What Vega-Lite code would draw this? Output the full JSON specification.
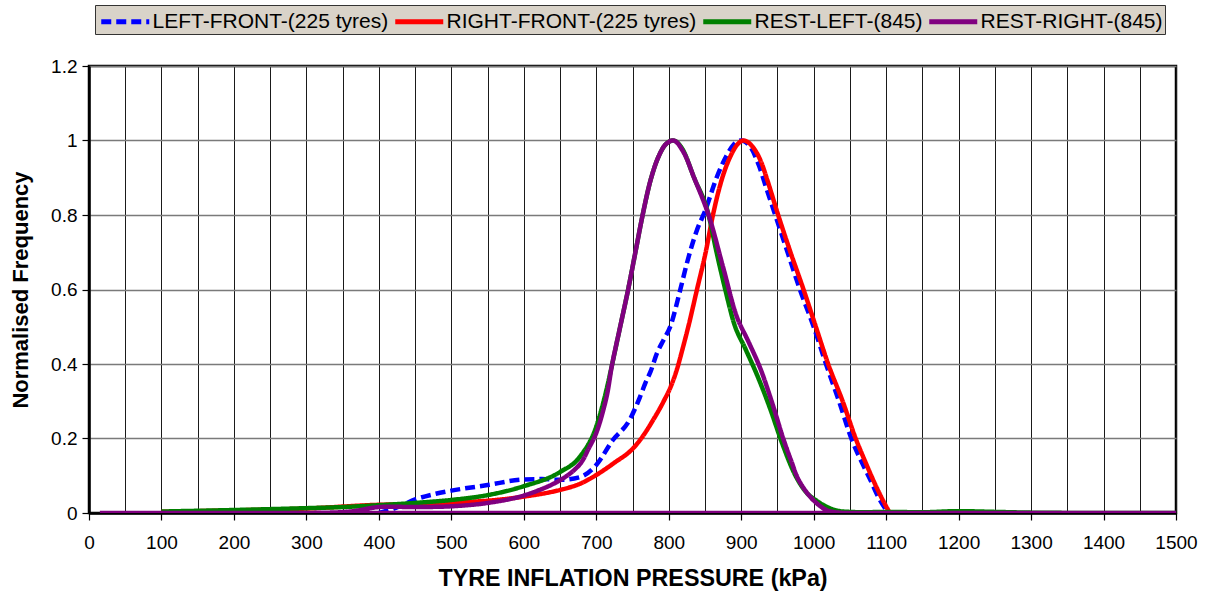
{
  "$schema": "https://vega.github.io/schema/vega-lite/v6.json",
  "width": 1087,
  "height": 447,
  "autosize": {"type": "none"},
  "padding": {"left": 89, "top": 66, "right": 30, "bottom": 82},
  "background": "white",
  "config": {
    "font": "Liberation Sans",
    "view": {"stroke": "black", "strokeWidth": 2.5},
    "axis": {"labelColor": "black", "titleColor": "black", "labelFont": "Liberation Sans", "titleFont": "Liberation Sans"},
    "legend": {
      "orient": "none", "legendX": 6, "legendY": -61, "direction": "horizontal",
      "title": null, "fillColor": "#d9d3c9", "strokeColor": "#333333", "padding": 2,
      "symbolType": "M-2,0L2,0", "symbolSize": 576, "symbolStrokeWidth": 4.8,
      "symbolOffset": 13.75,
      "labelFontSize": 21, "labelColor": "black", "labelOffset": 12.75,
      "columnPadding": -4, "labelLimit": 400
    }
  },
  "data": {"values": [
    {"series": "LEFT-FRONT-(225 tyres)", "x": 400, "y": 0},
    {"series": "LEFT-FRONT-(225 tyres)", "x": 425, "y": 0.015},
    {"series": "LEFT-FRONT-(225 tyres)", "x": 451, "y": 0.037},
    {"series": "LEFT-FRONT-(225 tyres)", "x": 475, "y": 0.05},
    {"series": "LEFT-FRONT-(225 tyres)", "x": 500, "y": 0.06},
    {"series": "LEFT-FRONT-(225 tyres)", "x": 550, "y": 0.075},
    {"series": "LEFT-FRONT-(225 tyres)", "x": 600, "y": 0.09},
    {"series": "LEFT-FRONT-(225 tyres)", "x": 625, "y": 0.091},
    {"series": "LEFT-FRONT-(225 tyres)", "x": 650, "y": 0.089},
    {"series": "LEFT-FRONT-(225 tyres)", "x": 677, "y": 0.096},
    {"series": "LEFT-FRONT-(225 tyres)", "x": 700, "y": 0.129},
    {"series": "LEFT-FRONT-(225 tyres)", "x": 723, "y": 0.196},
    {"series": "LEFT-FRONT-(225 tyres)", "x": 746, "y": 0.25},
    {"series": "LEFT-FRONT-(225 tyres)", "x": 760, "y": 0.31},
    {"series": "LEFT-FRONT-(225 tyres)", "x": 768, "y": 0.35},
    {"series": "LEFT-FRONT-(225 tyres)", "x": 775, "y": 0.38},
    {"series": "LEFT-FRONT-(225 tyres)", "x": 784, "y": 0.43},
    {"series": "LEFT-FRONT-(225 tyres)", "x": 793, "y": 0.465},
    {"series": "LEFT-FRONT-(225 tyres)", "x": 802, "y": 0.5},
    {"series": "LEFT-FRONT-(225 tyres)", "x": 816, "y": 0.6},
    {"series": "LEFT-FRONT-(225 tyres)", "x": 825, "y": 0.67},
    {"series": "LEFT-FRONT-(225 tyres)", "x": 839, "y": 0.76},
    {"series": "LEFT-FRONT-(225 tyres)", "x": 850, "y": 0.81},
    {"series": "LEFT-FRONT-(225 tyres)", "x": 866, "y": 0.9},
    {"series": "LEFT-FRONT-(225 tyres)", "x": 880, "y": 0.96},
    {"series": "LEFT-FRONT-(225 tyres)", "x": 890, "y": 0.99},
    {"series": "LEFT-FRONT-(225 tyres)", "x": 900, "y": 1.0},
    {"series": "LEFT-FRONT-(225 tyres)", "x": 912, "y": 0.985},
    {"series": "LEFT-FRONT-(225 tyres)", "x": 925, "y": 0.93},
    {"series": "LEFT-FRONT-(225 tyres)", "x": 935, "y": 0.87},
    {"series": "LEFT-FRONT-(225 tyres)", "x": 947, "y": 0.8},
    {"series": "LEFT-FRONT-(225 tyres)", "x": 964, "y": 0.7},
    {"series": "LEFT-FRONT-(225 tyres)", "x": 981, "y": 0.6},
    {"series": "LEFT-FRONT-(225 tyres)", "x": 1000, "y": 0.5},
    {"series": "LEFT-FRONT-(225 tyres)", "x": 1017, "y": 0.4},
    {"series": "LEFT-FRONT-(225 tyres)", "x": 1035, "y": 0.3},
    {"series": "LEFT-FRONT-(225 tyres)", "x": 1052, "y": 0.2},
    {"series": "LEFT-FRONT-(225 tyres)", "x": 1068, "y": 0.13},
    {"series": "LEFT-FRONT-(225 tyres)", "x": 1078, "y": 0.09},
    {"series": "LEFT-FRONT-(225 tyres)", "x": 1090, "y": 0.04},
    {"series": "LEFT-FRONT-(225 tyres)", "x": 1103, "y": 0},

    {"series": "RIGHT-FRONT-(225 tyres)", "x": 100, "y": 0.003},
    {"series": "RIGHT-FRONT-(225 tyres)", "x": 200, "y": 0.007},
    {"series": "RIGHT-FRONT-(225 tyres)", "x": 300, "y": 0.012},
    {"series": "RIGHT-FRONT-(225 tyres)", "x": 400, "y": 0.022},
    {"series": "RIGHT-FRONT-(225 tyres)", "x": 450, "y": 0.024},
    {"series": "RIGHT-FRONT-(225 tyres)", "x": 500, "y": 0.028},
    {"series": "RIGHT-FRONT-(225 tyres)", "x": 550, "y": 0.033},
    {"series": "RIGHT-FRONT-(225 tyres)", "x": 600, "y": 0.044},
    {"series": "RIGHT-FRONT-(225 tyres)", "x": 650, "y": 0.062},
    {"series": "RIGHT-FRONT-(225 tyres)", "x": 677, "y": 0.078},
    {"series": "RIGHT-FRONT-(225 tyres)", "x": 700, "y": 0.102},
    {"series": "RIGHT-FRONT-(225 tyres)", "x": 725, "y": 0.135},
    {"series": "RIGHT-FRONT-(225 tyres)", "x": 750, "y": 0.172},
    {"series": "RIGHT-FRONT-(225 tyres)", "x": 762, "y": 0.2},
    {"series": "RIGHT-FRONT-(225 tyres)", "x": 777, "y": 0.245},
    {"series": "RIGHT-FRONT-(225 tyres)", "x": 793, "y": 0.3},
    {"series": "RIGHT-FRONT-(225 tyres)", "x": 804, "y": 0.345},
    {"series": "RIGHT-FRONT-(225 tyres)", "x": 812, "y": 0.39},
    {"series": "RIGHT-FRONT-(225 tyres)", "x": 819, "y": 0.44},
    {"series": "RIGHT-FRONT-(225 tyres)", "x": 827, "y": 0.5},
    {"series": "RIGHT-FRONT-(225 tyres)", "x": 839, "y": 0.6},
    {"series": "RIGHT-FRONT-(225 tyres)", "x": 851, "y": 0.7},
    {"series": "RIGHT-FRONT-(225 tyres)", "x": 861, "y": 0.8},
    {"series": "RIGHT-FRONT-(225 tyres)", "x": 873, "y": 0.894},
    {"series": "RIGHT-FRONT-(225 tyres)", "x": 885, "y": 0.957},
    {"series": "RIGHT-FRONT-(225 tyres)", "x": 895, "y": 0.99},
    {"series": "RIGHT-FRONT-(225 tyres)", "x": 903, "y": 1.0},
    {"series": "RIGHT-FRONT-(225 tyres)", "x": 915, "y": 0.985},
    {"series": "RIGHT-FRONT-(225 tyres)", "x": 928, "y": 0.94},
    {"series": "RIGHT-FRONT-(225 tyres)", "x": 936, "y": 0.894},
    {"series": "RIGHT-FRONT-(225 tyres)", "x": 951, "y": 0.8},
    {"series": "RIGHT-FRONT-(225 tyres)", "x": 968, "y": 0.7},
    {"series": "RIGHT-FRONT-(225 tyres)", "x": 986, "y": 0.6},
    {"series": "RIGHT-FRONT-(225 tyres)", "x": 1003, "y": 0.5},
    {"series": "RIGHT-FRONT-(225 tyres)", "x": 1020, "y": 0.4},
    {"series": "RIGHT-FRONT-(225 tyres)", "x": 1040, "y": 0.3},
    {"series": "RIGHT-FRONT-(225 tyres)", "x": 1058, "y": 0.2},
    {"series": "RIGHT-FRONT-(225 tyres)", "x": 1072, "y": 0.134},
    {"series": "RIGHT-FRONT-(225 tyres)", "x": 1082, "y": 0.089},
    {"series": "RIGHT-FRONT-(225 tyres)", "x": 1094, "y": 0.04},
    {"series": "RIGHT-FRONT-(225 tyres)", "x": 1105, "y": 0},

    {"series": "REST-LEFT-(845)", "x": 100, "y": 0.004},
    {"series": "REST-LEFT-(845)", "x": 200, "y": 0.008},
    {"series": "REST-LEFT-(845)", "x": 300, "y": 0.013},
    {"series": "REST-LEFT-(845)", "x": 350, "y": 0.016},
    {"series": "REST-LEFT-(845)", "x": 400, "y": 0.021},
    {"series": "REST-LEFT-(845)", "x": 450, "y": 0.027},
    {"series": "REST-LEFT-(845)", "x": 500, "y": 0.035},
    {"series": "REST-LEFT-(845)", "x": 550, "y": 0.048},
    {"series": "REST-LEFT-(845)", "x": 600, "y": 0.072},
    {"series": "REST-LEFT-(845)", "x": 650, "y": 0.11},
    {"series": "REST-LEFT-(845)", "x": 677, "y": 0.15},
    {"series": "REST-LEFT-(845)", "x": 700, "y": 0.232},
    {"series": "REST-LEFT-(845)", "x": 714, "y": 0.33},
    {"series": "REST-LEFT-(845)", "x": 722, "y": 0.4},
    {"series": "REST-LEFT-(845)", "x": 733, "y": 0.5},
    {"series": "REST-LEFT-(845)", "x": 744, "y": 0.6},
    {"series": "REST-LEFT-(845)", "x": 754, "y": 0.7},
    {"series": "REST-LEFT-(845)", "x": 764, "y": 0.8},
    {"series": "REST-LEFT-(845)", "x": 775, "y": 0.894},
    {"series": "REST-LEFT-(845)", "x": 786, "y": 0.957},
    {"series": "REST-LEFT-(845)", "x": 796, "y": 0.99},
    {"series": "REST-LEFT-(845)", "x": 806, "y": 1.0},
    {"series": "REST-LEFT-(845)", "x": 818, "y": 0.98},
    {"series": "REST-LEFT-(845)", "x": 835, "y": 0.9},
    {"series": "REST-LEFT-(845)", "x": 855, "y": 0.8},
    {"series": "REST-LEFT-(845)", "x": 866, "y": 0.7},
    {"series": "REST-LEFT-(845)", "x": 878, "y": 0.6},
    {"series": "REST-LEFT-(845)", "x": 890, "y": 0.51},
    {"series": "REST-LEFT-(845)", "x": 906, "y": 0.44},
    {"series": "REST-LEFT-(845)", "x": 922, "y": 0.37},
    {"series": "REST-LEFT-(845)", "x": 940, "y": 0.28},
    {"series": "REST-LEFT-(845)", "x": 956, "y": 0.19},
    {"series": "REST-LEFT-(845)", "x": 975, "y": 0.1},
    {"series": "REST-LEFT-(845)", "x": 990, "y": 0.055},
    {"series": "REST-LEFT-(845)", "x": 1004, "y": 0.033},
    {"series": "REST-LEFT-(845)", "x": 1022, "y": 0.013},
    {"series": "REST-LEFT-(845)", "x": 1040, "y": 0.004},
    {"series": "REST-LEFT-(845)", "x": 1070, "y": 0.002},
    {"series": "REST-LEFT-(845)", "x": 1100, "y": 0.003},
    {"series": "REST-LEFT-(845)", "x": 1150, "y": 0.002},
    {"series": "REST-LEFT-(845)", "x": 1200, "y": 0.005},
    {"series": "REST-LEFT-(845)", "x": 1250, "y": 0.003},
    {"series": "REST-LEFT-(845)", "x": 1300, "y": 0.001},
    {"series": "REST-LEFT-(845)", "x": 1400, "y": 0},
    {"series": "REST-LEFT-(845)", "x": 1500, "y": 0},

    {"series": "REST-RIGHT-(845)", "seq": 1, "x": 15, "y": 0},
    {"series": "REST-RIGHT-(845)", "seq": 2, "x": 300, "y": 0},
    {"series": "REST-RIGHT-(845)", "seq": 3, "x": 360, "y": 0.004},
    {"series": "REST-RIGHT-(845)", "seq": 4, "x": 400, "y": 0.016},
    {"series": "REST-RIGHT-(845)", "seq": 5, "x": 450, "y": 0.016},
    {"series": "REST-RIGHT-(845)", "seq": 6, "x": 500, "y": 0.018},
    {"series": "REST-RIGHT-(845)", "seq": 7, "x": 550, "y": 0.027},
    {"series": "REST-RIGHT-(845)", "seq": 8, "x": 600, "y": 0.047},
    {"series": "REST-RIGHT-(845)", "seq": 9, "x": 650, "y": 0.088},
    {"series": "REST-RIGHT-(845)", "seq": 10, "x": 677, "y": 0.13},
    {"series": "REST-RIGHT-(845)", "seq": 11, "x": 690, "y": 0.175},
    {"series": "REST-RIGHT-(845)", "seq": 12, "x": 700, "y": 0.215},
    {"series": "REST-RIGHT-(845)", "seq": 13, "x": 714, "y": 0.31},
    {"series": "REST-RIGHT-(845)", "seq": 14, "x": 722, "y": 0.4},
    {"series": "REST-RIGHT-(845)", "seq": 15, "x": 733, "y": 0.5},
    {"series": "REST-RIGHT-(845)", "seq": 16, "x": 744, "y": 0.6},
    {"series": "REST-RIGHT-(845)", "seq": 17, "x": 754, "y": 0.7},
    {"series": "REST-RIGHT-(845)", "seq": 18, "x": 764, "y": 0.8},
    {"series": "REST-RIGHT-(845)", "seq": 19, "x": 775, "y": 0.894},
    {"series": "REST-RIGHT-(845)", "seq": 20, "x": 786, "y": 0.957},
    {"series": "REST-RIGHT-(845)", "seq": 21, "x": 796, "y": 0.99},
    {"series": "REST-RIGHT-(845)", "seq": 22, "x": 807, "y": 1.0},
    {"series": "REST-RIGHT-(845)", "seq": 23, "x": 820, "y": 0.97},
    {"series": "REST-RIGHT-(845)", "seq": 24, "x": 835, "y": 0.9},
    {"series": "REST-RIGHT-(845)", "seq": 25, "x": 855, "y": 0.8},
    {"series": "REST-RIGHT-(845)", "seq": 26, "x": 875, "y": 0.66},
    {"series": "REST-RIGHT-(845)", "seq": 27, "x": 894, "y": 0.527},
    {"series": "REST-RIGHT-(845)", "seq": 28, "x": 910, "y": 0.46},
    {"series": "REST-RIGHT-(845)", "seq": 29, "x": 926, "y": 0.39},
    {"series": "REST-RIGHT-(845)", "seq": 30, "x": 942, "y": 0.3},
    {"series": "REST-RIGHT-(845)", "seq": 31, "x": 958, "y": 0.2},
    {"series": "REST-RIGHT-(845)", "seq": 32, "x": 969, "y": 0.14},
    {"series": "REST-RIGHT-(845)", "seq": 33, "x": 979, "y": 0.09},
    {"series": "REST-RIGHT-(845)", "seq": 34, "x": 995, "y": 0.044},
    {"series": "REST-RIGHT-(845)", "seq": 35, "x": 1010, "y": 0.017},
    {"series": "REST-RIGHT-(845)", "seq": 36, "x": 1020, "y": 0.006},
    {"series": "REST-RIGHT-(845)", "seq": 37, "x": 1035, "y": 0.001},
    {"series": "REST-RIGHT-(845)", "seq": 38, "x": 1050, "y": 0},
    {"series": "REST-RIGHT-(845)", "seq": 39, "x": 1500, "y": 0},
    {"series": "REST-RIGHT-(845)", "seq": 40, "x": 15, "y": 0}
  ]},
  "encoding": {
    "x": {
      "field": "x", "type": "quantitative",
      "scale": {"domain": [0, 1500], "nice": false},
      "title": "TYRE INFLATION PRESSURE (kPa)",
      "axis": {
        "values": [0,50,100,150,200,250,300,350,400,450,500,550,600,650,700,750,800,850,900,950,1000,1050,1100,1150,1200,1250,1300,1350,1400,1450,1500],
        "labelExpr": "datum.value % 100 === 0 ? datum.label : ''",
        "tickOpacity": {"condition": {"test": "datum.value % 100 !== 0", "value": 0}, "value": 1},
        "format": "d",
        "grid": true, "gridColor": "#1a1a1a", "gridWidth": 1,
        "domainColor": "black", "domainWidth": 2.5,
        "tickColor": "black", "tickSize": 7, "tickWidth": 1.2,
        "labelFontSize": 19, "labelPadding": 13, "labelFlush": false,
        "titleFontSize": 23.3, "titleFontWeight": "bold", "titlePadding": 15
      }
    },
    "y": {
      "field": "y", "type": "quantitative",
      "scale": {"domain": [0, 1.2], "nice": false},
      "title": "Normalised Frequency",
      "axis": {
        "values": [0, 0.2, 0.4, 0.6, 0.8, 1, 1.2],
        "format": ".1~f",
        "grid": true, "gridColor": "#7a7a7a", "gridWidth": 1.5,
        "domainColor": "black", "domainWidth": 2.5,
        "tickColor": "black", "tickSize": 7, "tickWidth": 1.2,
        "labelFontSize": 19, "labelPadding": 5,
        "titleFontSize": 22, "titleFontWeight": "bold", "titlePadding": 18
      }
    },
    "color": {
      "field": "series", "type": "nominal",
      "scale": {
        "domain": ["LEFT-FRONT-(225 tyres)", "RIGHT-FRONT-(225 tyres)", "REST-LEFT-(845)", "REST-RIGHT-(845)"],
        "range": ["#0000ff", "#ff0000", "#008000", "#800080"]
      }
    },
    "strokeDash": {
      "field": "series", "type": "nominal",
      "scale": {
        "domain": ["LEFT-FRONT-(225 tyres)", "RIGHT-FRONT-(225 tyres)", "REST-LEFT-(845)", "REST-RIGHT-(845)"],
        "range": [[10, 5], [1, 0], [1, 0], [1, 0]]
      }
    }
  },
  "layer": [
    {"transform": [{"filter": "datum.series === 'LEFT-FRONT-(225 tyres)'"}], "mark": {"type": "line", "strokeWidth": 4.5, "strokeCap": "butt", "interpolate": "monotone", "clip": true}},
    {"transform": [{"filter": "datum.series === 'RIGHT-FRONT-(225 tyres)'"}], "mark": {"type": "line", "strokeWidth": 4.5, "interpolate": "monotone", "clip": true}},
    {"transform": [{"filter": "datum.series === 'REST-LEFT-(845)'"}], "mark": {"type": "line", "strokeWidth": 4.5, "interpolate": "monotone", "clip": true}},
    {"transform": [{"filter": "datum.series === 'REST-RIGHT-(845)'"}], "mark": {"type": "line", "strokeWidth": 4.5, "interpolate": "catmull-rom", "clip": true}, "encoding": {"order": {"field": "seq", "type": "quantitative"}}}
  ]
}
